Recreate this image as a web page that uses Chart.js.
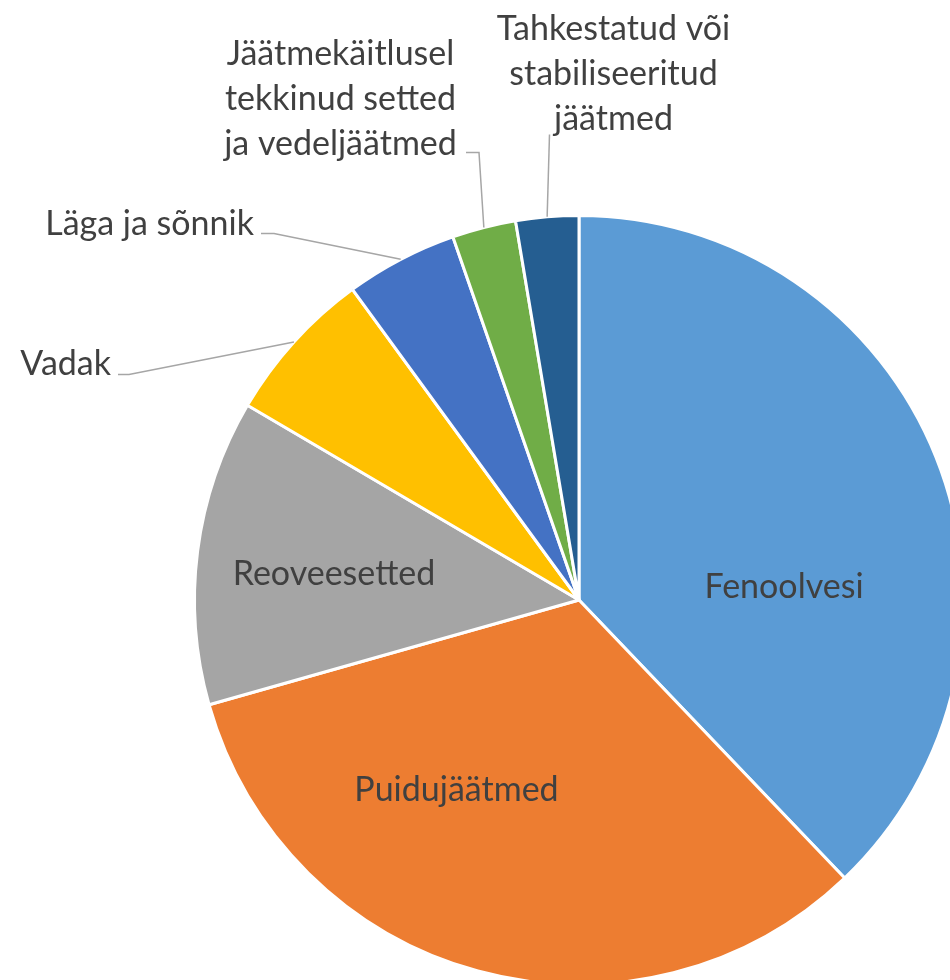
<!DOCTYPE html>
<html>
<head>
<meta charset="utf-8">
<script src="https://cdn.jsdelivr.net/npm/chart.js@4/dist/chart.umd.min.js"></script>
<style>
  html, body { margin: 0; padding: 0; background: #fff; }
  #wrap { position: relative; width: 950px; height: 980px; overflow: hidden; }
  #pie { position: absolute; left: 0; top: 0; }
</style>
</head>
<body>
<div id="wrap"><canvas id="pie" width="1000" height="1000"></canvas></div>
<script>
// Data (share of total, %)
const categories = [
  'Fenoolvesi',
  'Puidujäätmed',
  'Reoveesetted',
  'Vadak',
  'Läga ja sõnnik',
  'Jäätmekäitlusel tekkinud setted ja vedeljäätmed',
  'Tahkestatud või stabiliseeritud jäätmed'
];
const shares = [37.86, 32.75, 12.84, 6.52, 4.71, 2.68, 2.64];
const sliceColors = ['#5B9BD5', '#ED7D31', '#A5A5A5', '#FFC000', '#4472C4', '#70AD47', '#255E91'];

// Label text broken into lines as in the original
const labelLines = [
  ['Fenoolvesi'],
  ['Puidujäätmed'],
  ['Reoveesetted'],
  ['Vadak'],
  ['Läga ja sõnnik'],
  ['Jäätmekäitlusel', 'tekkinud setted', 'ja vedeljäätmed'],
  ['Tahkestatud või', 'stabiliseeritud', 'jäätmed']
];

/**
 * Label placement, in px from the pie centre.
 * x/y = anchor of first baseline, align = text alignment,
 * leader = bend points of the leader line (ends on the slice's arc midpoint)
 */
const LABEL_FONT = '34px Lato, "Open Sans", sans-serif';
const LINE_HEIGHT = 45;
const labelLayout = [
  { x: 205, y: -2.5, align: 'center' },
  { x: -122.5, y: 200.5, align: 'center' },
  { x: -245, y: -15.5, align: 'center' },
  { x: -468, y: -225.5, align: 'right', leader: [[-461, -225.5], [-450, -225.5]] },
  { x: -325, y: -365.5, align: 'right', leader: [[-318, -366.5], [-305, -366.5]] },
  { x: -238.5, y: -535.5, align: 'center', leader: [[-113, -447.5], [-100, -447.5]] },
  { x: 34.5, y: -560.5, align: 'center', leader: [[-29.5, -465.5]] }
];

const pieLabels = {
  id: 'pieLabels',
  afterDatasetsDraw(chart) {
    const ctx = chart.ctx;
    const arcs = chart.getDatasetMeta(0).data;
    ctx.save();
    arcs.forEach((arc, i) => {
      const p = arc.getProps(['x', 'y', 'startAngle', 'endAngle', 'outerRadius'], true);
      const lay = labelLayout[i];
      const mid = (p.startAngle + p.endAngle) / 2;

      if (lay.leader) {
        ctx.beginPath();
        ctx.strokeStyle = '#A6A6A6';
        ctx.lineWidth = 1.5;
        lay.leader.forEach((pt, k) => {
          const fn = k === 0 ? 'moveTo' : 'lineTo';
          ctx[fn](p.x + pt[0], p.y + pt[1]);
        });
        ctx.lineTo(p.x + Math.cos(mid) * p.outerRadius, p.y + Math.sin(mid) * p.outerRadius);
        ctx.stroke();
      }

      ctx.font = LABEL_FONT;
      ctx.fillStyle = '#404040';
      ctx.textAlign = lay.align;
      ctx.textBaseline = 'alphabetic';
      labelLines[i].forEach((line, k) => {
        ctx.fillText(line, p.x + lay.x, p.y + lay.y + k * LINE_HEIGHT);
      });
    });
    ctx.restore();
  }
};

new Chart(document.getElementById('pie'), {
  type: 'pie',
  data: {
    labels: categories,
    datasets: [{
      data: shares,
      backgroundColor: sliceColors,
      borderColor: '#ffffff',
      borderWidth: 3
    }]
  },
  options: {
    responsive: false,
    animation: false,
    layout: { padding: { left: 193, top: 214, right: 35, bottom: 14 } },
    plugins: {
      legend: { display: false },
      tooltip: { enabled: false }
    }
  },
  plugins: [pieLabels]
});
</script>
</body>
</html>
